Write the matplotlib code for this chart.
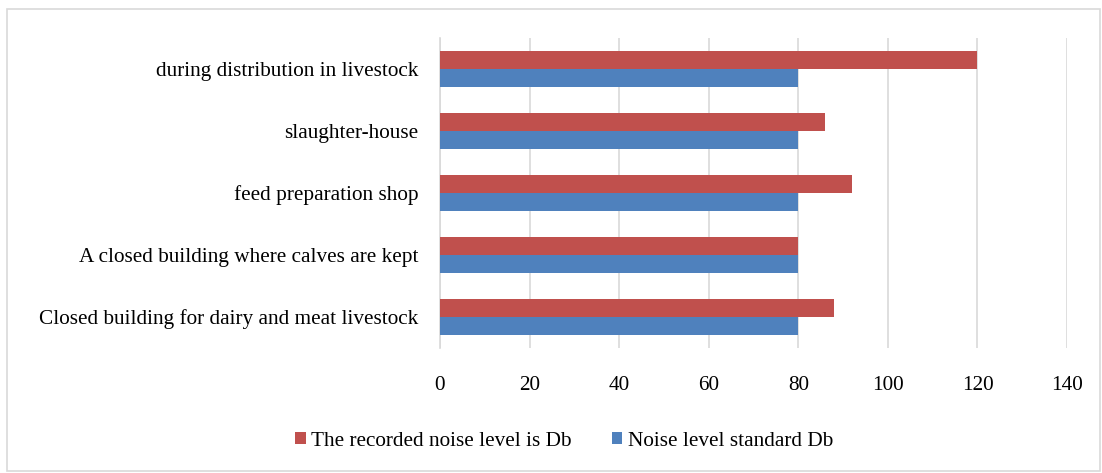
import numpy as np
import matplotlib.pyplot as plt
from matplotlib.patches import Rectangle

plt.rcParams['font.family'] = ['Liberation Serif', 'DejaVu Serif']

categories = [
    'Closed building for dairy and meat livestock',
    'A closed building where calves are kept',
    'feed preparation shop',
    'slaughter-house',
    'during distribution in livestock',
]
recorded = [88, 80, 92, 86, 120]
standard = [80, 80, 80, 80, 80]
xticks = [0, 20, 40, 60, 80, 100, 120, 140]

red = '#c0504d'
blue = '#4f81bd'
fs = 15.3

fig = plt.figure(figsize=(11.02, 4.73), dpi=100)
ax = fig.add_axes([440 / 1102, 1 - 348 / 473, 627 / 1102, 310 / 473])

y = np.arange(len(categories))
h = 0.285
ax.barh(y + h / 2, recorded, height=h, color=red, label='The recorded noise level is Db', zorder=3)
ax.barh(y - h / 2, standard, height=h, color=blue, label='Noise level standard Db', zorder=3)

ax.set_xlim(0, 140)
ax.set_ylim(-0.5, len(categories) - 0.5)
ax.set_xticks(xticks)
ax.set_yticks(y)
ax.set_yticklabels(categories)
ax.tick_params(axis='both', length=0, labelsize=fs, colors='#000000')
ax.tick_params(axis='x', pad=20)
ax.tick_params(axis='y', pad=15.5)
ax.grid(axis='x', color='#d9d9d9', linewidth=1.2, zorder=0)
for s in ['top', 'right', 'bottom']:
    ax.spines[s].set_visible(False)
ax.spines['left'].set_color('#d9d9d9')
ax.spines['left'].set_linewidth(1.2)

ax.legend(loc='center', bbox_to_anchor=(564 / 1102, 1 - 441 / 473),
          bbox_transform=fig.transFigure, ncol=2, frameon=False,
          fontsize=fs, handlelength=0.5, handleheight=0.5,
          handletextpad=0.25, columnspacing=1.9)

# outer frame around the chart
fig.patches.append(Rectangle((7 / 1102, 2 / 473), 1093 / 1102, 462 / 473,
                             transform=fig.transFigure, fill=False,
                             edgecolor='#d9d9d9', linewidth=1.2))

fig.savefig('out.png', dpi=100)
